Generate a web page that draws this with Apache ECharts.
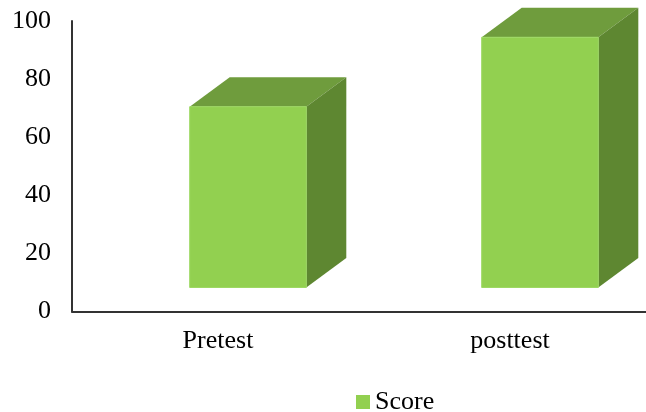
<!DOCTYPE html>
<html>
<head>
<meta charset="utf-8">
<script src="https://cdn.jsdelivr.net/npm/echarts@6/dist/echarts.min.js"></script>
<style>html,body{margin:0;padding:0;background:#fff}#c{width:646px;height:412px}</style>
</head>
<body>
<div id="c"></div>
<script>
var categories = ['Pretest', 'posttest'];
var scoreValues = [70.5, 94.4];
var yTicks = [0, 20, 40, 60, 80, 100];
var seriesName = 'Score';

var chart = echarts.init(document.getElementById('c'), null, {renderer: 'canvas'});
var FONT = '"Liberation Serif", "Times New Roman", serif';

function renderBar(params, api) {
  var idx = api.value(0);
  var val = api.value(1);
  var top = api.coord([idx, val]);
  var base = api.coord([idx, 0]);
  var cx = top[0] + 30;
  var hw = 58.3;
  var x0 = cx - hw, x1 = cx + hw;
  var yT = top[1];
  var yB = base[1] - 24;
  var dx = 40, dy = -29.5;
  return {
    type: 'group',
    children: [
      {type: 'polygon', shape: {points: [[x0, yT], [x1, yT], [x1 + dx, yT + dy], [x0 + dx, yT + dy]]},
       style: {fill: '#6f9c3d'}},
      {type: 'polygon', shape: {points: [[x1, yT], [x1 + dx, yT + dy], [x1 + dx, yB + dy], [x1, yB]]},
       style: {fill: '#5e8731'}},
      {type: 'rect', shape: {x: x0, y: yT, width: x1 - x0, height: yB - yT},
       style: {fill: '#92d050', stroke: '#9dd863', lineWidth: 1}}
    ]
  };
}

chart.setOption({
  animation: false,
  backgroundColor: '#ffffff',
  grid: {left: 72, width: 584, top: 21, bottom: 100.5, containLabel: false, outerBoundsMode: 'none'},
  legend: {
    data: [{name: seriesName, icon: 'rect'}],
    left: 356, top: 389, padding: 0,
    itemWidth: 14, itemHeight: 14, itemGap: 5,
    textStyle: {fontFamily: FONT, fontSize: 26, color: '#000'}
  },
  xAxis: {
    type: 'category',
    data: categories,
    axisLine: {lineStyle: {color: '#333', width: 2}},
    axisTick: {show: false},
    axisLabel: {fontFamily: FONT, fontSize: 26, color: '#000', margin: 17}
  },
  yAxis: {
    type: 'value',
    min: yTicks[0], max: yTicks[yTicks.length - 1], interval: yTicks[1] - yTicks[0],
    axisLine: {show: true, lineStyle: {color: '#333', width: 2}},
    axisTick: {show: false},
    splitLine: {show: false},
    axisLabel: {fontFamily: FONT, fontSize: 26, color: '#000', margin: 21}
  },
  series: [{
    name: seriesName,
    type: 'custom',
    color: '#92d050',
    renderItem: renderBar,
    encode: {x: 0, y: 1},
    data: categories.map(function (c, i) { return [i, scoreValues[i]]; })
  }]
});
</script>
</body>
</html>
